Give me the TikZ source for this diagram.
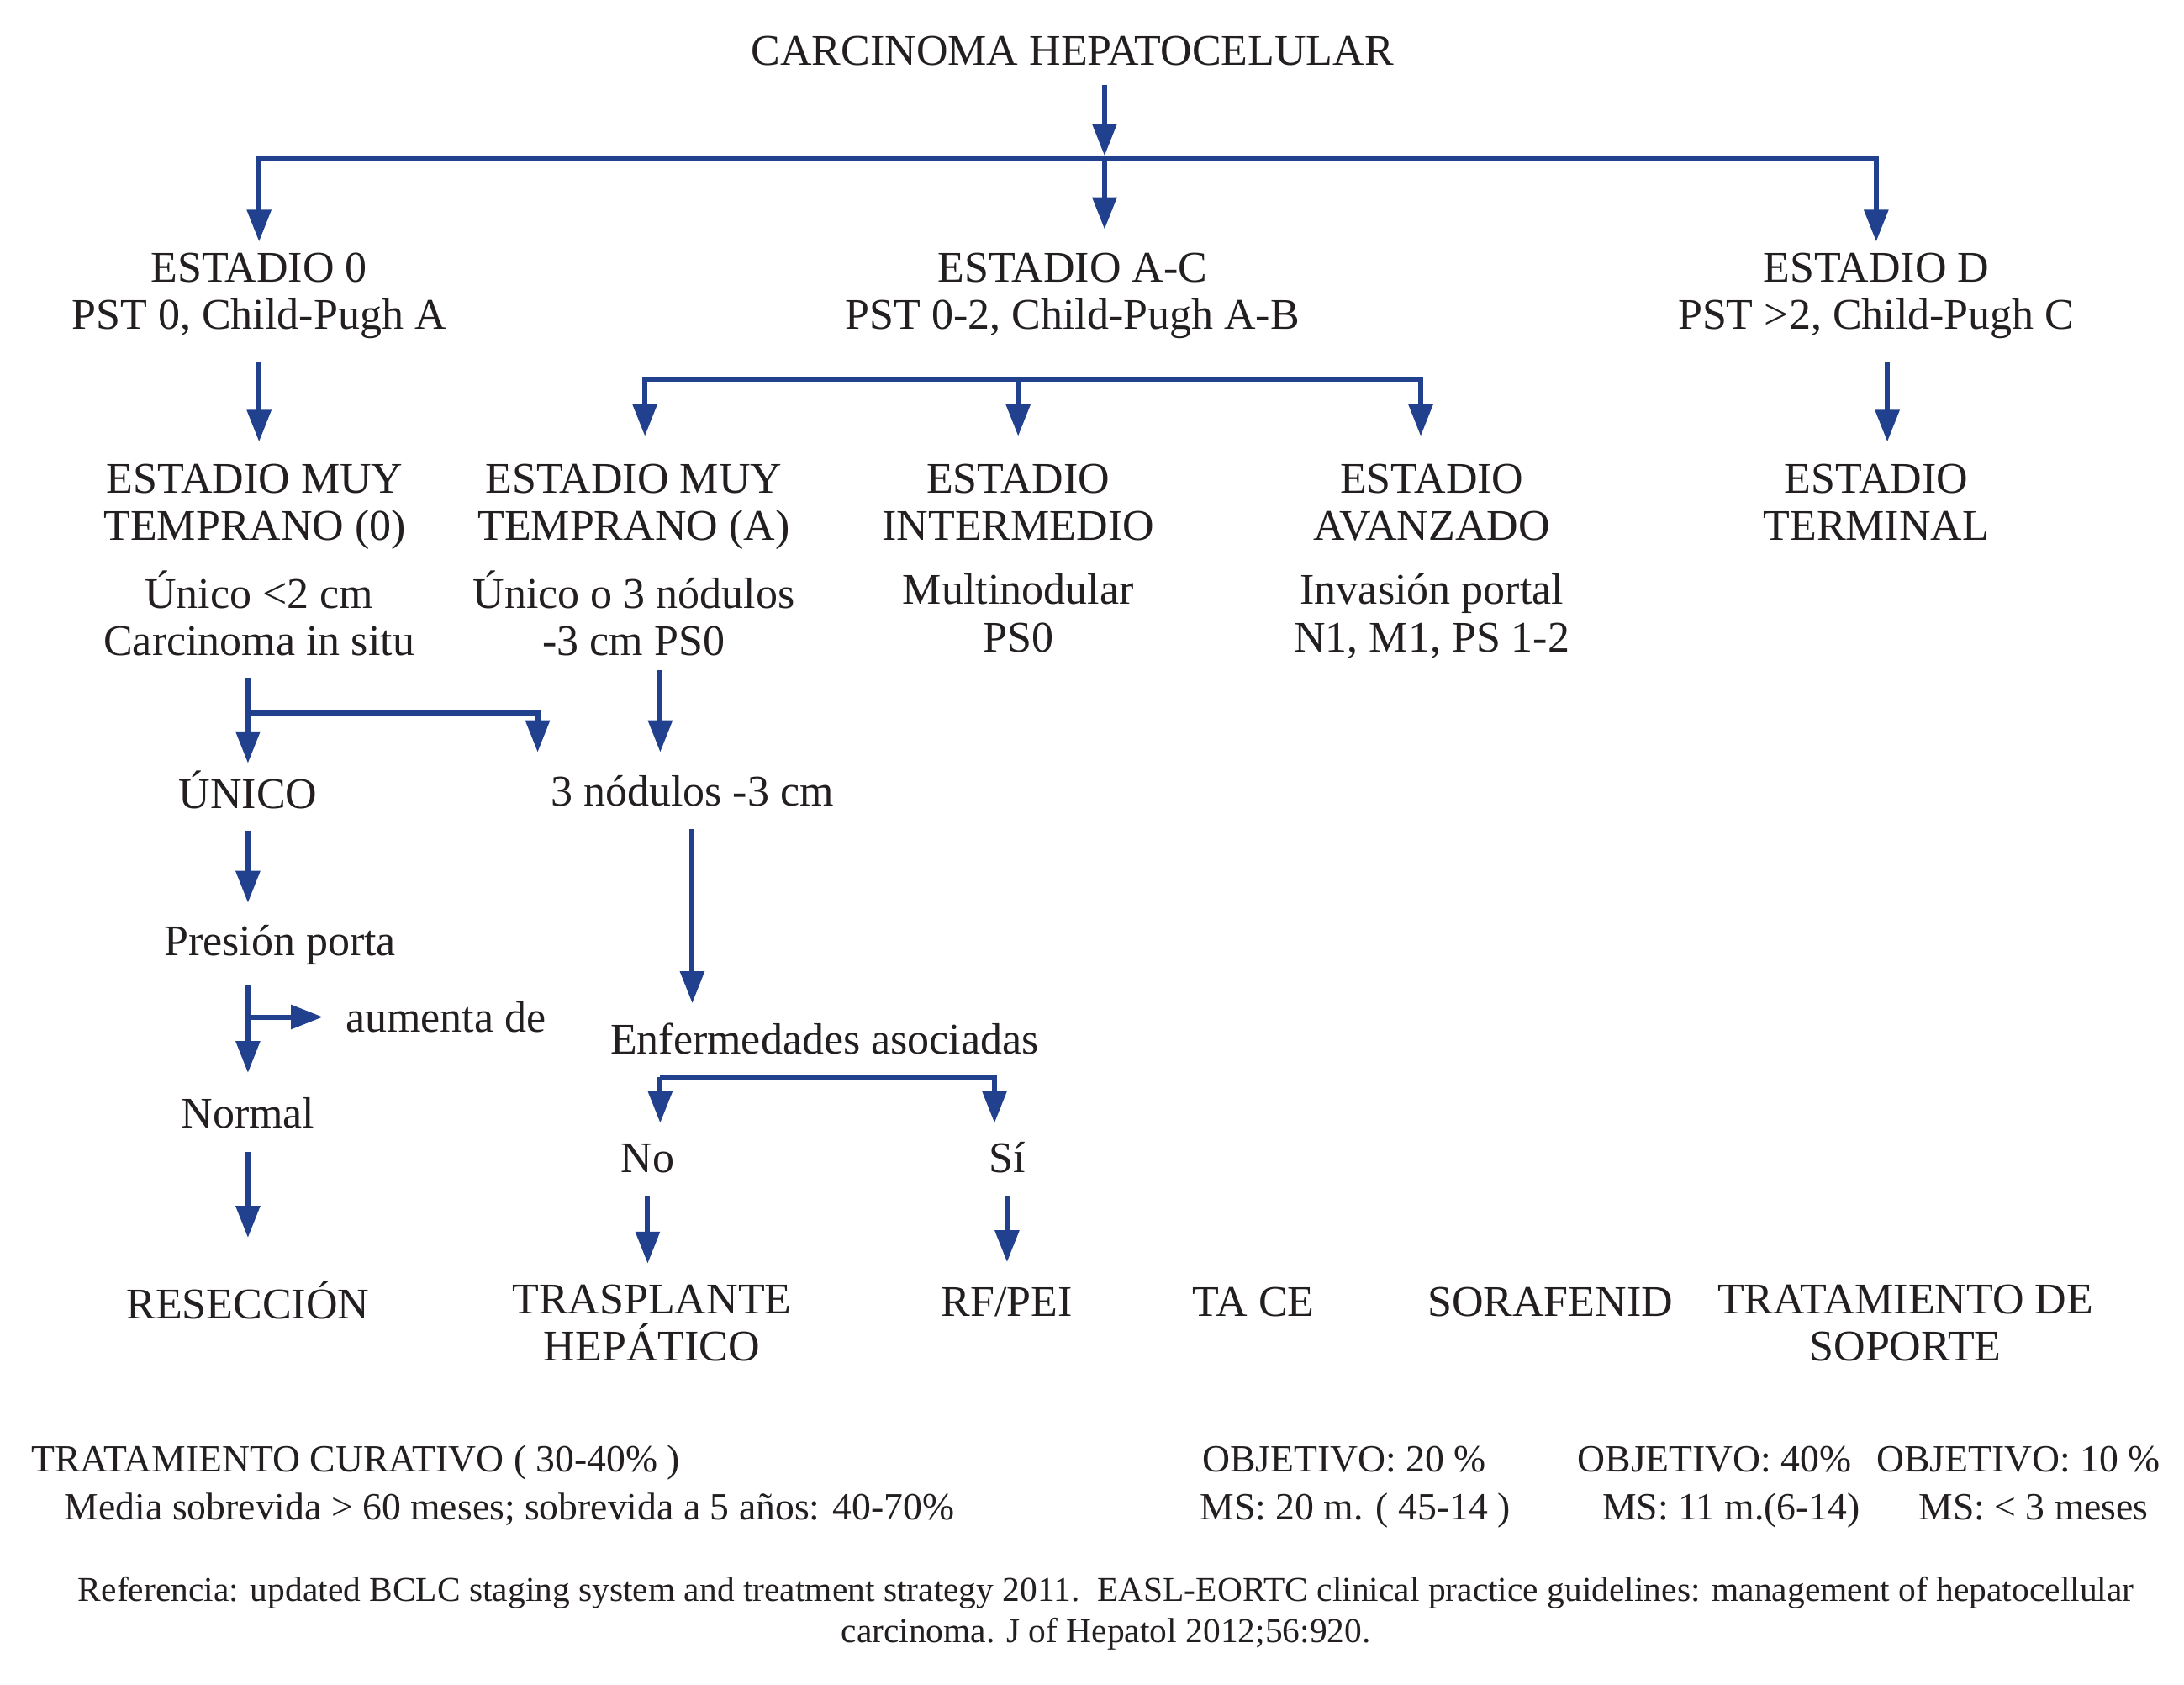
\documentclass[tikz,border=0pt]{standalone}
\usepackage{fontspec}
\setmainfont{Liberation Serif}
\usepackage{tikz}
\usetikzlibrary{arrows.meta,calc}
\definecolor{FlechaAzul}{RGB}{33,64,141}
\definecolor{TextoNegro}{RGB}{35,31,32}

\begin{document}
\begin{tikzpicture}[
  x=0.016569cm, y=-0.016569cm,
  font=\fontsize{14.8}{16}\selectfont,
  txt/.style={
    inner sep=0pt, align=center, text=TextoNegro,
    execute at begin node=\strut, execute at end node=\strut
  },
  pie/.style={txt, font=\fontsize{13}{16}\selectfont},
  nota/.style={txt, font=\fontsize{11.8}{14.1}\selectfont},
  arr/.style={
    draw=FlechaAzul, line width=1.7pt,
    -{Triangle[length=3.8mm,width=2.8mm]}
  }
]
\useasboundingbox (0,0) rectangle (1568,1209);

% Nivel 1
\node[txt] (titulo) at (770,40) {CARCINOMA HEPATOCELULAR};
\coordinate (top) at (793,114);

\node[txt] (e0)  at (186,214)  {ESTADIO 0\\PST 0, Child-Pugh A};
\node[txt] (eAC) at (770,214)  {ESTADIO A-C\\PST 0-2, Child-Pugh A-B};
\node[txt] (eD)  at (1347,214) {ESTADIO D\\PST >2, Child-Pugh C};

\draw[arr, shorten <=1.6pt, shorten >=1pt] (titulo.south -| top) -- (top);
\draw[arr, shorten >=3.6pt] (top) -| (e0);
\draw[arr, shorten >=3.6pt] (top) -| (eD);
\draw[arr, shorten >=7.8pt] (top) -- (top |- eAC.north);

% Nivel 2
\node[txt] (mt0)   at (183,365.5)  {ESTADIO MUY\\TEMPRANO (0)};
\node[txt] (d0)    at (186,445)    {Único <2 cm\\Carcinoma in situ};
\node[txt] (mtA)   at (455,365.5)  {ESTADIO MUY\\TEMPRANO (A)};
\node[txt] (dA)    at (455,445)    {Único o 3 nódulos\\-3 cm PS0};
\node[txt] (inter) at (731,365.5)  {ESTADIO\\INTERMEDIO};
\node[txt] (dI)    at (731,445)    {Multinodular\\PS0};
\node[txt] (avz)   at (1028,365.5) {ESTADIO\\AVANZADO};
\node[txt] (dV)    at (1028,445)   {Invasión portal\\N1, M1, PS 1-2};
\node[txt] (term)  at (1347,365.5) {ESTADIO\\TERMINAL};

\draw[arr, shorten <=5.9pt, shorten >=7.3pt] (e0) -- (e0 |- mt0.north);
\draw[arr, shorten <=5.9pt, shorten >=7.3pt] ($(eD.south)+(8,0)$) -- ($(term.north)+(8,0)$);

\coordinate (mid) at (731,272);
\draw[arr, shorten >=9.2pt] (mid) -| ($(mtA.north)+(8,0)$);
\draw[arr, shorten >=9.2pt] (mid) -- (inter);
\draw[arr, shorten >=9.2pt] (mid) -| ($(avz.north)+(-8,0)$);

% Rama izquierda
\node[txt] (unico)   at (178,572) {ÚNICO};
\node[txt] (tres)    at (497,572) {3 nódulos -3 cm};
\node[txt] (presion) at (201,679) {Presión porta};
\node[txt] (aum)     at (320,734) {aumenta de};
\node[txt] (normal)  at (178,803) {Normal};
\node[txt] (enf)     at (592,750) {Enfermedades asociadas};
\node[txt] (no)      at (465,835) {No};
\node[txt] (si)      at (723,835) {Sí};

\draw[arr, shorten <=2.6pt, shorten >=2.4pt] (d0.south -| unico) -- (unico);
\coordinate (fork) at (178,512);
\draw[arr, shorten >=6.9pt] (fork) -| ($(tres.north)+(-111,0)$);
\draw[arr, shorten >=6.9pt] ($(dA.south)+(19,0)$) -- ($(tres.north)+(-23,0)$);

\draw[arr, shorten <=2.6pt, shorten >=6.4pt] (unico) -- (unico |- presion.north);
\draw[arr, shorten <=4.9pt, shorten >=7.3pt] (presion.south -| normal) -- (normal);
\coordinate (split) at (178,730);
\draw[arr, shorten >=7.5pt] (split) -- (split -| aum.west);

\draw[arr, shorten <=2.6pt, shorten >=5.9pt] (tres) -- (tres |- enf.north);
\coordinate (bl) at (474,773);
\coordinate (br) at (714,773);
\draw[arr, shorten >=5.4pt] (bl) -- (bl |- no.north);
\draw[arr, shorten >=5.4pt] (bl) -| (br |- si.north);

% Tratamientos
\node[txt] (resec)   at (178,938)    {RESECCIÓN};
\node[txt] (trasp)   at (468,954.5)  {TRASPLANTE\\HEPÁTICO};
\node[txt] (rfpei)   at (723,938)    {RF/PEI};
\node[txt] (tace)    at (900,938)    {TA CE};
\node[txt] (sora)    at (1113,938)   {SORAFENID};
\node[txt] (soporte) at (1368,954.5) {TRATAMIENTO DE\\SOPORTE};

\draw[arr, shorten <=3pt, shorten >=14.4pt] (normal) -- (resec);
\draw[arr, shorten <=3pt, shorten >=6.9pt] (no) -- (no |- trasp.north);
\draw[arr, shorten <=3pt, shorten >=6.9pt] (si) -- (rfpei);

% Resultados
\node[pie, anchor=west] (cur1) at (22,1050) {TRATAMIENTO CURATIVO ( 30-40\% )};
\node[pie, anchor=west] (cur2) at (46,1084) {Media sobrevida > 60 meses; sobrevida a 5 años: 40-70\%};
\node[pie] (obj20) at (965,1050)  {OBJETIVO: 20 \%};
\node[pie] (ms20)  at (973,1084)  {MS: 20 m. ( 45-14 )};
\node[pie] (obj40) at (1231,1050) {OBJETIVO: 40\%};
\node[pie] (ms40)  at (1243,1084) {MS: 11 m.(6-14)};
\node[pie] (obj10) at (1449,1050) {OBJETIVO: 10 \%};
\node[pie] (ms10)  at (1460,1084) {MS: < 3 meses};

\node[nota] (ref) at (794,1160) {Referencia: updated BCLC staging system and treatment strategy 2011.\ \ EASL-EORTC clinical practice guidelines: management of hepatocellular\\carcinoma. J of Hepatol 2012;56:920.};
\end{tikzpicture}
\end{document}
